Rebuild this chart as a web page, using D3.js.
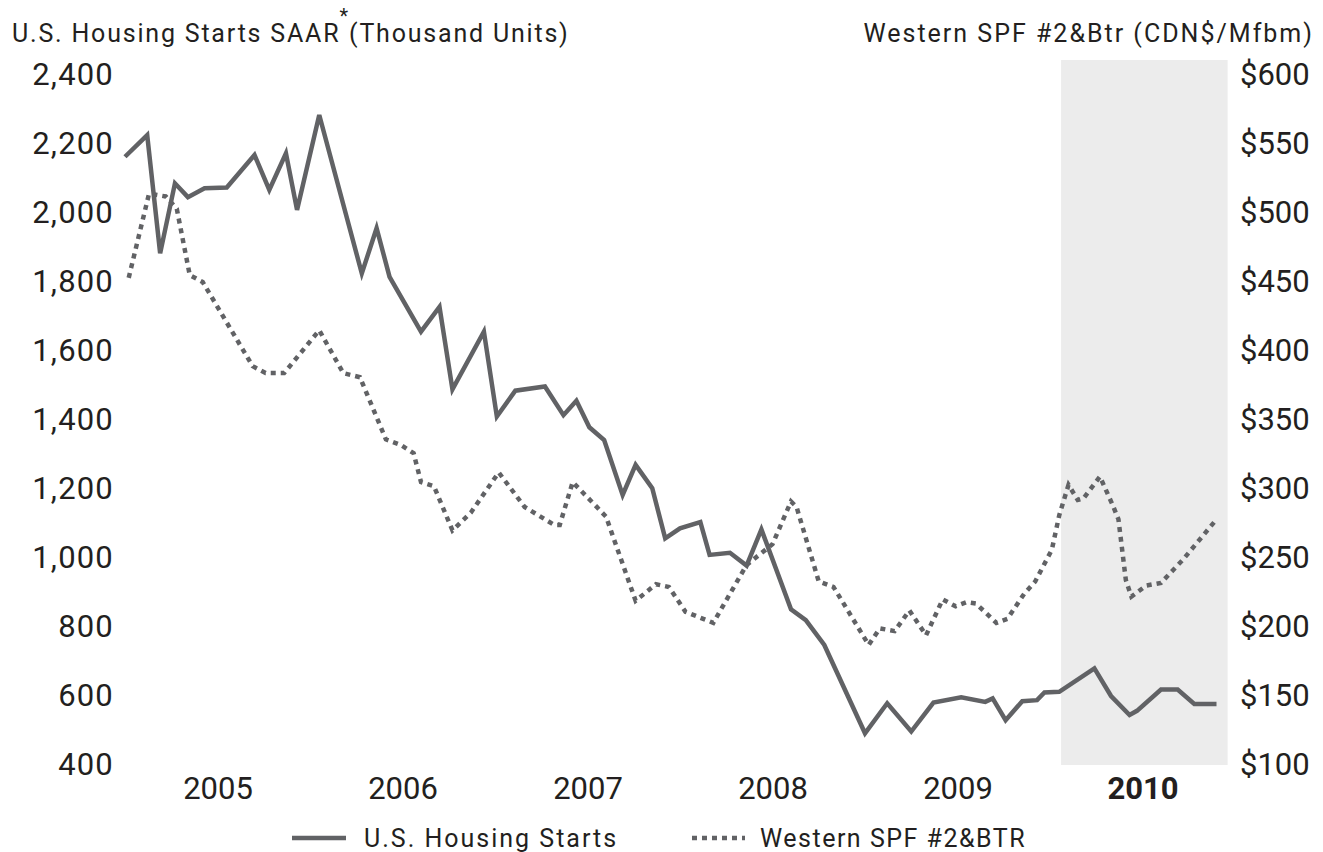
<!DOCTYPE html>
<html>
<head>
<meta charset="utf-8">
<script src="https://cdn.jsdelivr.net/npm/d3@7"></script>
<style>
  html, body { margin: 0; padding: 0; background: #fff; }
  svg { display: block; }
  text { font-family: Roboto, "DejaVu Sans", sans-serif; fill: #231f20; }
</style>
</head>
<body>
<svg id="chart" width="1323" height="852"></svg>
<script>
// ---- data ----
const yearLabels = [2005, 2006, 2007, 2008, 2009, 2010];
const leftTicks = [400, 600, 800, 1000, 1200, 1400, 1600, 1800, 2000, 2200, 2400];
const rightTicks = [100, 150, 200, 250, 300, 350, 400, 450, 500, 550, 600];

// U.S. Housing Starts (SAAR, thousand units); time in decimal years
const startsTime = [2005.00, 2005.12, 2005.19, 2005.27, 2005.34, 2005.43, 2005.55, 2005.70, 2005.78, 2005.87, 2005.93,
  2006.05, 2006.28, 2006.36, 2006.43, 2006.60, 2006.70, 2006.77, 2006.94,
  2007.01, 2007.11, 2007.27, 2007.37, 2007.44, 2007.51, 2007.59, 2007.69, 2007.76, 2007.85, 2007.92,
  2008.00, 2008.11, 2008.16, 2008.27, 2008.36, 2008.44, 2008.60, 2008.68, 2008.78,
  2009.00, 2009.12, 2009.25, 2009.37, 2009.52, 2009.65, 2009.69, 2009.76, 2009.85, 2009.93, 2009.97,
  2010.05, 2010.24, 2010.33, 2010.43, 2010.47, 2010.60, 2010.69, 2010.78, 2010.90];
const startsValue = [2163, 2226, 1883, 2086, 2046, 2072, 2074, 2168, 2067, 2173, 2009,
  2284, 1825, 1956, 1815, 1656, 1728, 1489, 1656,
  1410, 1485, 1497, 1414, 1456, 1379, 1342, 1183, 1270, 1202, 1057,
  1086, 1104, 1009, 1015, 978, 1083, 851, 820, 748,
  492, 579, 497, 581, 596, 583, 593, 530, 585, 588, 610,
  612, 680, 600, 545, 557, 619, 619, 577, 577];

// Western SPF #2&Btr (CDN$/Mfbm)
const spfTime = [2005.02, 2005.13, 2005.22, 2005.28, 2005.35, 2005.42, 2005.69, 2005.76, 2005.86,
  2006.05, 2006.18, 2006.27, 2006.41, 2006.49, 2006.56, 2006.60, 2006.67, 2006.77, 2006.87,
  2007.02, 2007.16, 2007.32, 2007.35, 2007.42, 2007.55, 2007.60, 2007.76, 2007.87, 2007.94,
  2008.03, 2008.18, 2008.36, 2008.50, 2008.60, 2008.63, 2008.75, 2008.83,
  2009.02, 2009.08, 2009.16, 2009.24, 2009.33, 2009.42, 2009.49, 2009.55, 2009.60, 2009.71, 2009.77, 2009.86, 2009.92,
  2010.01, 2010.05, 2010.10, 2010.15, 2010.18, 2010.27, 2010.34, 2010.37, 2010.41, 2010.44, 2010.52, 2010.60, 2010.72, 2010.90];
const spfValue = [453, 514, 512, 503, 455, 450, 389, 384, 384,
  415, 384, 381, 336, 332, 326, 305, 302, 270, 283,
  312, 287, 274, 274, 305, 287, 280, 219, 231, 229,
  211, 203, 245, 260, 291, 287, 233, 229,
  187, 199, 197, 212, 194, 220, 215, 218, 217, 203, 206, 224, 233,
  256, 281, 303, 292, 293, 309, 288, 278, 234, 222, 230, 232, 249, 278];

// shaded period (2010)
const shadedPeriod = [2010.06, 2010.96];

const leftTitle = "U.S. Housing Starts SAAR";
const leftTitleNote = "*";
const leftTitleUnit = "(Thousand Units)";
const rightTitle = "Western SPF #2&Btr (CDN$/Mfbm)";
const legendNames = ["U.S. Housing Starts", "Western SPF #2&BTR"];

// ---- drawing ----
const svg = d3.select("#chart");
const plot = { left: 125, right: 1235, top: 75, bottom: 765 };
const lineColor = "#616265";
const textColor = "#231f20";

const x = d3.scaleLinear().domain([2005, 2011]).range([plot.left, plot.right]);
const yL = d3.scaleLinear().domain([400, 2400]).range([plot.bottom, plot.top]);
const yR = d3.scaleLinear().domain([100, 600]).range([plot.bottom, plot.top]);

// shaded band
svg.append("rect")
  .attr("x", x(shadedPeriod[0]))
  .attr("y", 60)
  .attr("width", x(shadedPeriod[1]) - x(shadedPeriod[0]))
  .attr("height", 705)
  .attr("fill", "#ececec");

// axes (labels only)
const fmtL = d3.format(",");
const axL = svg.append("g")
  .attr("transform", `translate(${plot.left - 11},0)`)
  .call(d3.axisLeft(yL).tickValues(leftTicks).tickSize(0).tickPadding(0).tickFormat(fmtL));
const axR = svg.append("g")
  .attr("transform", `translate(${plot.right + 5},0)`)
  .call(d3.axisRight(yR).tickValues(rightTicks).tickSize(0).tickPadding(0).tickFormat(d => "$" + d));
const axX = svg.append("g")
  .attr("transform", `translate(0,${plot.bottom + 12})`)
  .call(d3.axisBottom(x).tickValues(yearLabels.map(d => d + 0.5)).tickSize(0).tickPadding(0)
        .tickFormat(d => String(Math.floor(d))));
[axL, axR, axX].forEach(g => {
  g.select(".domain").remove();
  g.selectAll("text").attr("font-family", "Roboto, sans-serif").attr("font-size", 31).attr("fill", textColor);
});
axL.selectAll("text").attr("letter-spacing", 1.2);
axX.selectAll("text").attr("dy", "0.71em")
  .attr("font-weight", d => Math.floor(d) === 2010 ? 700 : 400);

// lines
const startsData = startsTime.map((t, i) => ({ t, v: startsValue[i] }));
const spfData = spfTime.map((t, i) => ({ t, v: spfValue[i] }));

svg.append("path")
  .datum(spfData)
  .attr("fill", "none")
  .attr("stroke", lineColor)
  .attr("stroke-width", 4.5)
  .attr("stroke-dasharray", "5,5")
  .attr("d", d3.line().x(d => x(d.t)).y(d => yR(d.v)));

svg.append("path")
  .datum(startsData)
  .attr("fill", "none")
  .attr("stroke", lineColor)
  .attr("stroke-width", 4.5)
  .attr("stroke-linejoin", "miter")
  .attr("d", d3.line().x(d => x(d.t)).y(d => yL(d.v)));

// titles
const lt = svg.append("text")
  .attr("x", 12).attr("y", 42)
  .attr("font-size", 25)
  .attr("letter-spacing", 1.8);
lt.append("tspan").text(leftTitle);
lt.append("tspan").attr("dy", -19).attr("dx", -1).attr("font-size", 20).attr("letter-spacing", 0).text(leftTitleNote);
lt.append("tspan").attr("dy", 19).attr("dx", 1).text(leftTitleUnit);

svg.append("text")
  .attr("x", 1314).attr("y", 42)
  .attr("text-anchor", "end")
  .attr("font-size", 25)
  .attr("letter-spacing", 2.0)
  .text(rightTitle);

// legend
const lg = svg.append("g").attr("transform", "translate(0,838)");
lg.append("line").attr("x1", 292).attr("x2", 346).attr("y1", 0).attr("y2", 0)
  .attr("stroke", lineColor).attr("stroke-width", 4.5);
lg.append("text").attr("x", 364).attr("y", 0).attr("dy", "0.35em")
  .attr("font-size", 25).attr("letter-spacing", 2.0).text(legendNames[0]);
lg.append("line").attr("x1", 692).attr("x2", 745).attr("y1", 0).attr("y2", 0)
  .attr("stroke", lineColor).attr("stroke-width", 4.5).attr("stroke-dasharray", "5,5");
lg.append("text").attr("x", 760).attr("y", 0).attr("dy", "0.35em")
  .attr("font-size", 25).attr("letter-spacing", 1.5).text(legendNames[1]);
</script>
</body>
</html>
